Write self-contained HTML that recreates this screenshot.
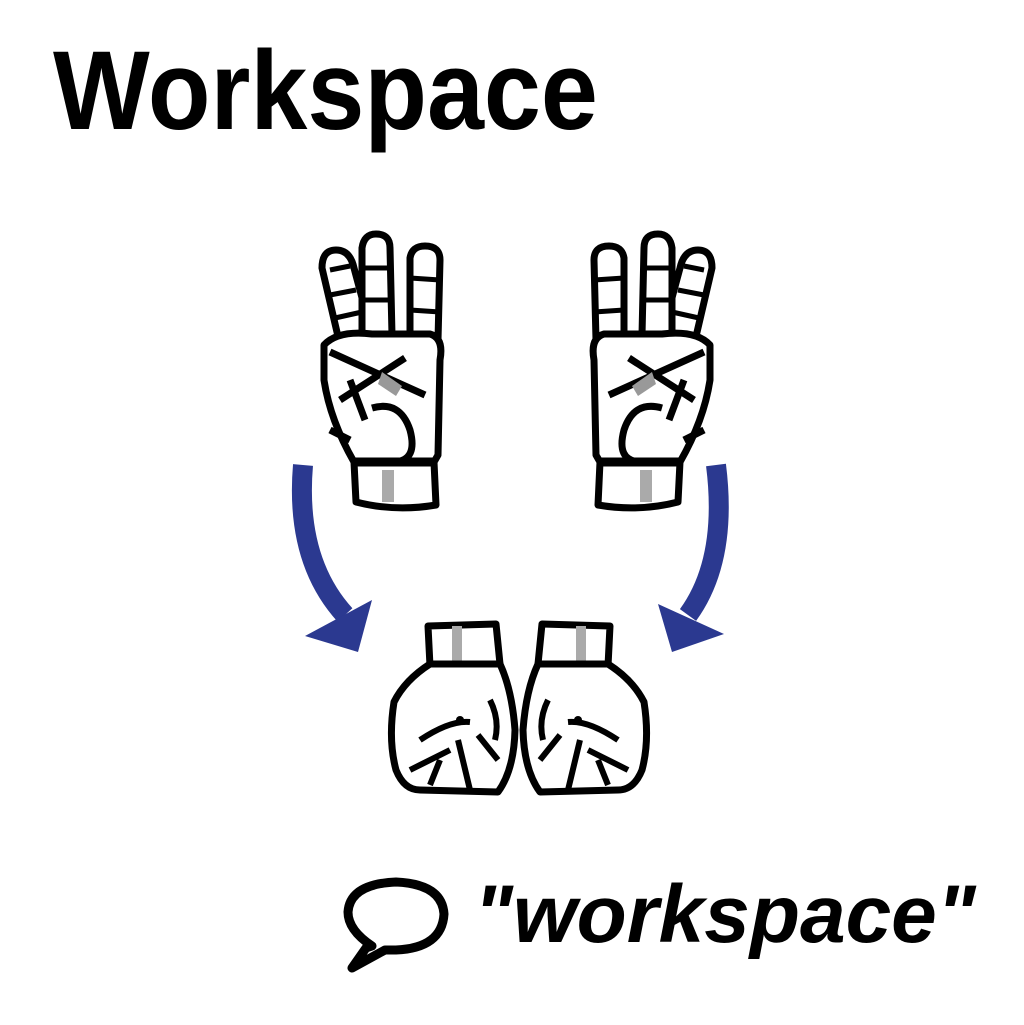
<!DOCTYPE html>
<html><head><meta charset="utf-8"><style>
html,body{margin:0;padding:0;background:#fff;}
#c{position:relative;width:1024px;height:1025px;overflow:hidden;background:#fff;}
.t{position:absolute;font-family:"Liberation Sans",sans-serif;font-weight:bold;color:#000;white-space:nowrap;}
</style></head><body>
<div id="c">
<div class="t" style="left:53px;top:26px;font-size:112px;line-height:130px;transform:scaleX(0.915);transform-origin:0 0;">Workspace</div>
<svg width="1024" height="1025" style="position:absolute;left:0;top:0">
<g id="hand" fill="#fff" stroke="#000" stroke-width="7" stroke-linejoin="round">
<path d="M340 345 L322 268 Q322 250 336 250 Q350 250 354 268 L372 335 Z"/>
<path d="M362 335 L362 248 Q364 234 376 234 Q390 234 390 248 L392 335 Z"/>
<path d="M410 335 L410 258 Q412 246 425 246 Q440 246 440 260 L438 340 Z"/>
<path d="M324 345 Q338 330 372 334 L430 334 Q444 338 440 360 L438 455 L434 462 L436 505 Q395 512 356 502 L354 462 Q330 420 324 380 Z"/>
<path d="M330 352 L425 395 M340 400 L405 358 M372 408 Q400 400 410 430 Q418 460 395 462 M350 380 L365 420 M330 430 L350 440" fill="none"/>
<path d="M355 462 L434 462" fill="none" stroke-width="9"/>
<rect x="382" y="470" width="12" height="32" fill="#aaa" stroke="none"/>
<path d="M382 372 L402 386 L396 396 L378 384 Z" fill="#999" stroke="none"/>
<path d="M330 270 L350 266 M330 295 L356 290 M335 318 L362 312 M362 268 L390 268 M362 300 L390 300 M410 278 L440 280 M410 310 L440 312" fill="none" stroke-width="5"/>
</g>
<use href="#hand" transform="translate(1034,0) scale(-1,1)"/>
<g id="fist" fill="#fff" stroke="#000" stroke-width="7" stroke-linejoin="round">
<path d="M428 626 L496 624 L500 664 L430 666 Z"/>
<rect x="452" y="626" width="10" height="36" fill="#aaa" stroke="none"/>
<path d="M430 664 Q405 680 394 702 Q388 740 396 770 Q404 790 420 790 L498 792 Q514 770 515 730 Q512 690 500 664 Z"/>
<path d="M420 740 Q450 720 470 722 M410 770 L450 750 M458 740 L470 790 M478 735 L498 760 M490 700 Q500 720 495 740 M440 760 L430 785" fill="none" stroke-width="6"/>
<circle cx="460" cy="720" r="4" fill="#000" stroke="none"/>
</g>
<use href="#fist" transform="translate(1038,0) scale(-1,1)"/>
<g>
<path d="M303 465 Q295 560 345 615" fill="none" stroke="#2b3990" stroke-width="20"/>
<path d="M305 636 L358 652 L372 600 Z" fill="#2b3990"/>
</g>
<g>
<path d="M716 465 Q728 560 688 615" fill="none" stroke="#2b3990" stroke-width="20"/>
<path d="M672 652 L724 634 L658 604 Z" fill="#2b3990"/>
</g>
<g>
<path d="M372 946 Q348 930 348 912 Q350 884 396 882 Q442 884 444 914 Q442 948 396 950 L385 950 L352 968 L366 948 Z" fill="none" stroke="#000" stroke-width="9" stroke-linejoin="round"/>
</g>
</svg>
<div class="t" style="left:474px;top:865px;font-size:82px;line-height:100px;font-style:italic;">"workspace"</div>
</div>
</body></html>
